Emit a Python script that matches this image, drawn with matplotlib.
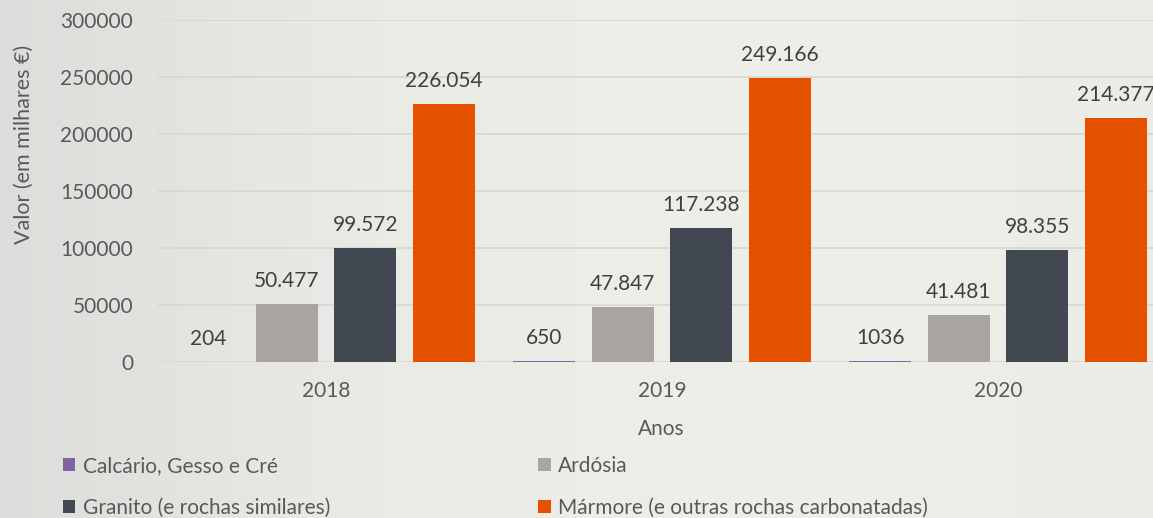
import matplotlib.pyplot as plt
import numpy as np

plt.rcParams['font.family'] = ['Lato', 'DejaVu Sans']

anos = ['2018', '2019', '2020']
calcario = [204, 650, 1036]
ardosia = [50477, 47847, 41481]
granito = [99572, 117238, 98355]
marmore = [226054, 249166, 214377]

series = [
    ('Calcário, Gesso e Cré', calcario, '#8064a2'),
    ('Ardósia', ardosia, '#a9a49f'),
    ('Granito (e rochas similares)', granito, '#414852'),
    ('Mármore (e outras rochas carbonatadas)', marmore, '#e65100'),
]

def fmt(v):
    # pontos como separador de milhares, so acima de 9999
    if v >= 10000:
        return f'{v:,}'.replace(',', '.')
    return str(v)

W, H = 1153, 518
fig = plt.figure(figsize=(W / 100, H / 100), dpi=100)
fig.patch.set_facecolor('#ecece7')

# fundo com ligeiro degrade (lado esquerdo mais cinzento)
bg = fig.add_axes([0, 0, 1, 1], zorder=-10)
grad = np.linspace(0, 1, 256)[None, :]
bg.imshow(grad, aspect='auto', cmap=plt.matplotlib.colors.LinearSegmentedColormap.from_list(
    'bg', ['#dcdedb', '#ebebe6', '#efefea', '#ecece7']), extent=[0, 1, 0, 1])
bg.axis('off')

ax = fig.add_axes([158 / W, 1 - 362 / H, (1166 - 158) / W, (362 - 20) / H])
ax.set_facecolor('none')

x = np.arange(len(anos))
step = 0.234
width = 0.185
handles = {}
for i, (nome, vals, cor) in enumerate(series):
    pos = x + (i - 1.5) * step
    b = ax.bar(pos, vals, width, color=cor, zorder=3, label=nome)
    handles[nome] = b
    for p, v in zip(pos, vals):
        ax.text(p, v + 11500, fmt(v), ha='center', va='bottom', fontsize=15, color='#404040')

ax.set_xlim(-0.5, 2.5)
ax.set_ylim(0, 300000)
ax.set_yticks(range(0, 300001, 50000))
ax.set_xticks(x)
ax.set_xticklabels(anos)
ax.grid(axis='y', color='#d6d6d3', linewidth=1.2, zorder=0)
for s in ax.spines.values():
    s.set_visible(False)
ax.tick_params(length=0, labelsize=15, colors='#595959')
ax.tick_params(axis='x', pad=14)
ax.tick_params(axis='y', pad=18)

fig.text(661 / W, 1 - 429 / H, 'Anos', ha='center', va='center', fontsize=15, color='#595959')
fig.text(24 / W, 1 - 144 / H, 'Valor (em milhares €)', ha='center', va='center',
         rotation=90, fontsize=15.5, color='#595959')

ordem = [series[0][0], series[2][0], series[1][0], series[3][0]]
leg = fig.legend([handles[n] for n in ordem], ordem, ncol=2, loc='upper left',
                 bbox_to_anchor=(44 / W, 1 - 437 / H), frameon=False, fontsize=15,
                 handlelength=0.6, handleheight=0.6, handletextpad=0.35,
                 columnspacing=10.0, labelspacing=1.05, labelcolor='#595959')

fig.savefig('out.png', dpi=100, facecolor=fig.get_facecolor())
